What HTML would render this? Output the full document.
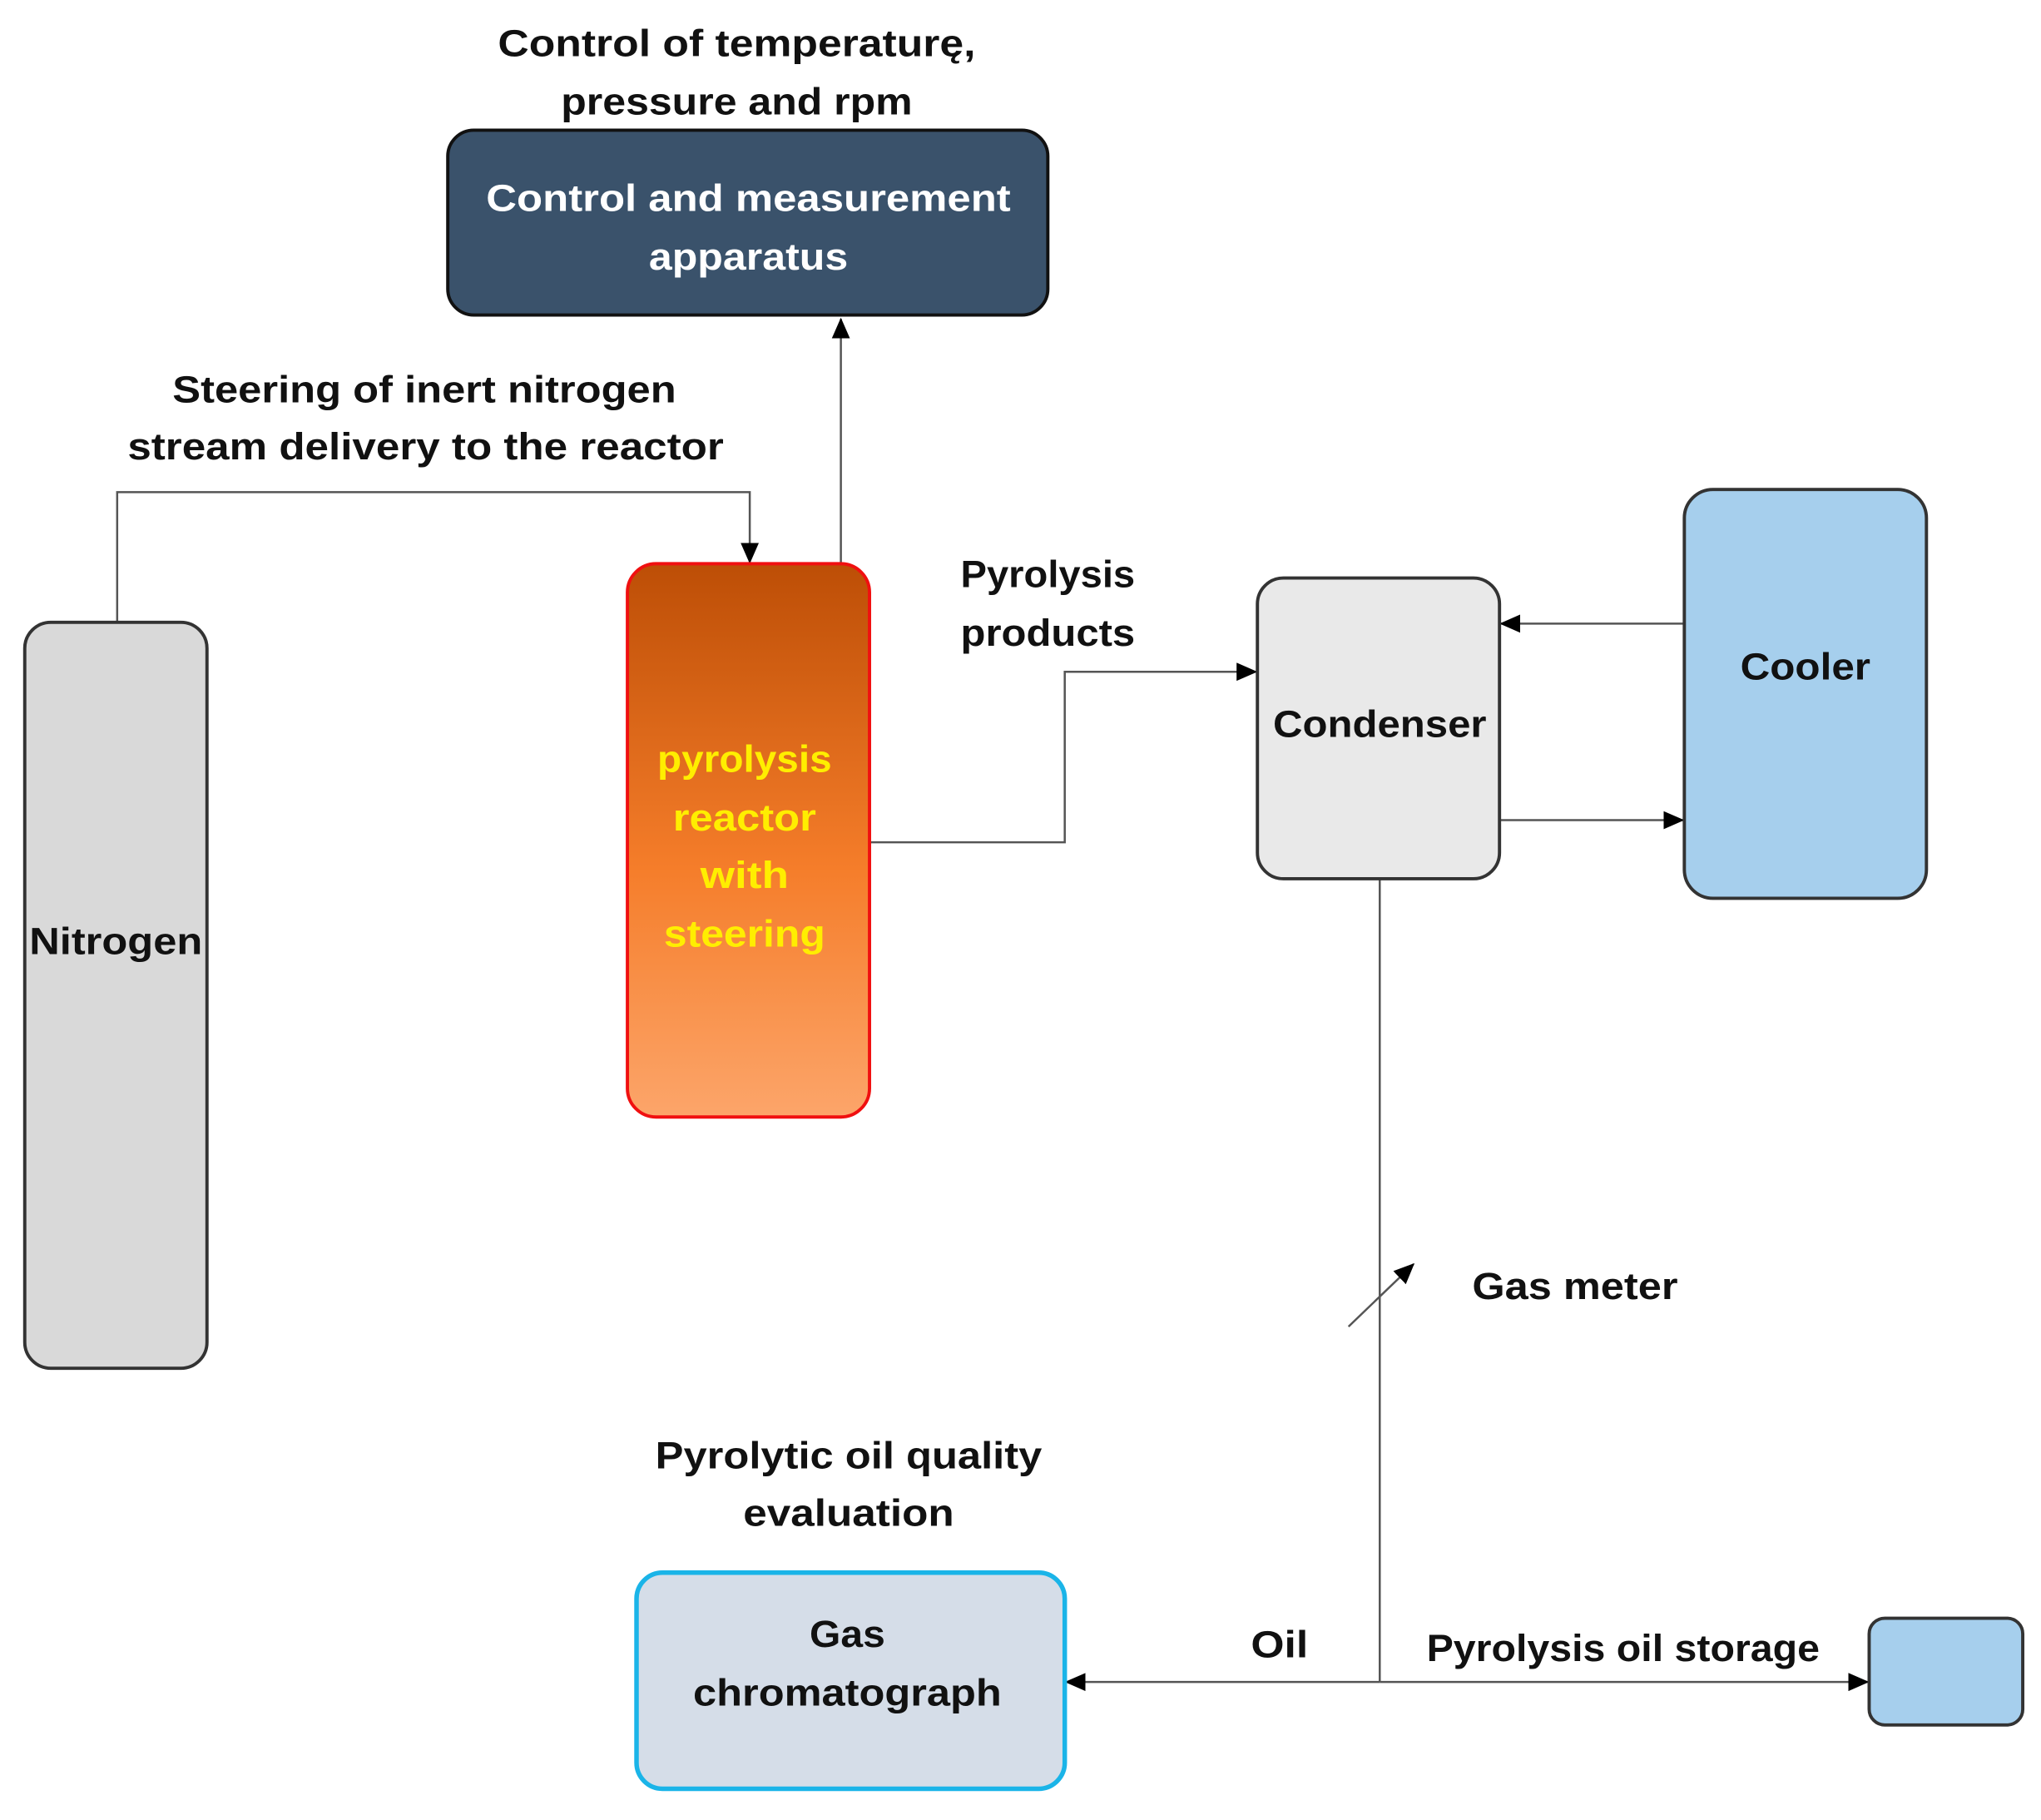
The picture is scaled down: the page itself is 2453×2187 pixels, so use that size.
<!DOCTYPE html>
<html><head><meta charset="utf-8"><style>
html,body{margin:0;padding:0;background:#fff;}
svg{display:block;}
text{font-family:"Liberation Sans",sans-serif;font-weight:bold;}
</style></head><body>
<svg width="2453" height="2187" viewBox="0 0 1568 1398" xmlns="http://www.w3.org/2000/svg">
<defs>
<linearGradient id="rg" x1="0" y1="0" x2="0" y2="1">
<stop offset="0" stop-color="#bd4e06"/><stop offset="0.55" stop-color="#f57d2a"/><stop offset="1" stop-color="#fca56a"/>
</linearGradient>
<marker id="ah" markerWidth="16" markerHeight="14" refX="15" refY="7" orient="auto" markerUnits="userSpaceOnUse">
<path d="M0,0 L16,7 L0,14 z" fill="#000"/></marker>
</defs>
<g font-size="29" fill="#111">
<text x="566" y="43" text-anchor="middle" textLength="367" lengthAdjust="spacingAndGlyphs">Control of temperaturę,</text>
<text x="566" y="88" text-anchor="middle" textLength="270" lengthAdjust="spacingAndGlyphs">pressure and rpm</text>
<text x="326" y="309" text-anchor="middle" textLength="387" lengthAdjust="spacingAndGlyphs">Steering of inert nitrogen</text>
<text x="327" y="353" text-anchor="middle" textLength="458" lengthAdjust="spacingAndGlyphs">stream delivery to the reactor</text>
<text x="738" y="451" textLength="134" lengthAdjust="spacingAndGlyphs">Pyrolysis</text>
<text x="738" y="496" textLength="134" lengthAdjust="spacingAndGlyphs">products</text>
<text x="1131" y="998" textLength="158" lengthAdjust="spacingAndGlyphs">Gas meter</text>
<text x="652" y="1128" text-anchor="middle" textLength="297" lengthAdjust="spacingAndGlyphs">Pyrolytic oil quality</text>
<text x="652" y="1172" text-anchor="middle" textLength="162" lengthAdjust="spacingAndGlyphs">evaluation</text>
<text x="983" y="1273" text-anchor="middle" textLength="44" lengthAdjust="spacingAndGlyphs">Oil</text>
<text x="1096" y="1276" textLength="302" lengthAdjust="spacingAndGlyphs">Pyrolysis oil storage</text>
</g>
<g stroke="#555" stroke-width="1.6" fill="none">
<polyline points="90,478 90,378 576,378 576,432" marker-end="url(#ah)"/>
<line x1="646" y1="433" x2="646" y2="245" marker-end="url(#ah)"/>
<polyline points="668,647 818,647 818,516 965,516" marker-end="url(#ah)"/>
<line x1="1294" y1="479" x2="1153" y2="479" marker-end="url(#ah)"/>
<line x1="1152" y1="630" x2="1293" y2="630" marker-end="url(#ah)"/>
<line x1="1060" y1="675" x2="1060" y2="1292"/>
<line x1="1060" y1="1292" x2="819" y2="1292" marker-end="url(#ah)"/>
<line x1="1060" y1="1292" x2="1435" y2="1292" marker-end="url(#ah)"/>
<line x1="1036" y1="1019" x2="1086" y2="971" marker-end="url(#ah)"/>
</g>
<rect x="344" y="100" width="461" height="142" rx="20" fill="#3a526b" stroke="#111" stroke-width="2.5"/>
<text x="575" y="162" text-anchor="middle" font-size="29" fill="#fff" textLength="403" lengthAdjust="spacingAndGlyphs">Control and measurement</text>
<text x="575" y="207" text-anchor="middle" font-size="29" fill="#fff" textLength="153" lengthAdjust="spacingAndGlyphs">apparatus</text>
<rect x="19" y="478" width="140" height="573" rx="20" fill="#d9d9d9" stroke="#333" stroke-width="2.5"/>
<text x="89" y="733" text-anchor="middle" font-size="29" fill="#111" textLength="133" lengthAdjust="spacingAndGlyphs">Nitrogen</text>
<rect x="482" y="433" width="186" height="425" rx="22" fill="url(#rg)" stroke="#f01010" stroke-width="2.5"/>
<g font-size="29" fill="#ffee00" text-anchor="middle">
<text x="572" y="593" textLength="134" lengthAdjust="spacingAndGlyphs">pyrolysis</text>
<text x="572" y="638" textLength="110" lengthAdjust="spacingAndGlyphs">reactor</text>
<text x="572" y="682" textLength="68" lengthAdjust="spacingAndGlyphs">with</text>
<text x="572" y="727" textLength="124" lengthAdjust="spacingAndGlyphs">steering</text>
</g>
<rect x="966" y="444" width="186" height="231" rx="20" fill="#e9e9e9" stroke="#333" stroke-width="2.5"/>
<text x="1060" y="566" text-anchor="middle" font-size="29" fill="#111" textLength="164" lengthAdjust="spacingAndGlyphs">Condenser</text>
<rect x="1294" y="376" width="186" height="314" rx="22" fill="#a6cfed" stroke="#333" stroke-width="2.5"/>
<text x="1387" y="522" text-anchor="middle" font-size="29" fill="#111" textLength="100" lengthAdjust="spacingAndGlyphs">Cooler</text>
<rect x="1436" y="1243" width="118" height="82" rx="12" fill="#a6cfed" stroke="#333" stroke-width="2.5"/>
<rect x="489" y="1208" width="329" height="166" rx="20" fill="#d5dde8" stroke="#1ab4e8" stroke-width="3.5"/>
<text x="651" y="1265" text-anchor="middle" font-size="29" fill="#111" textLength="58" lengthAdjust="spacingAndGlyphs">Gas</text>
<text x="651" y="1310" text-anchor="middle" font-size="29" fill="#111" textLength="237" lengthAdjust="spacingAndGlyphs">chromatograph</text>
</svg>
</body></html>
